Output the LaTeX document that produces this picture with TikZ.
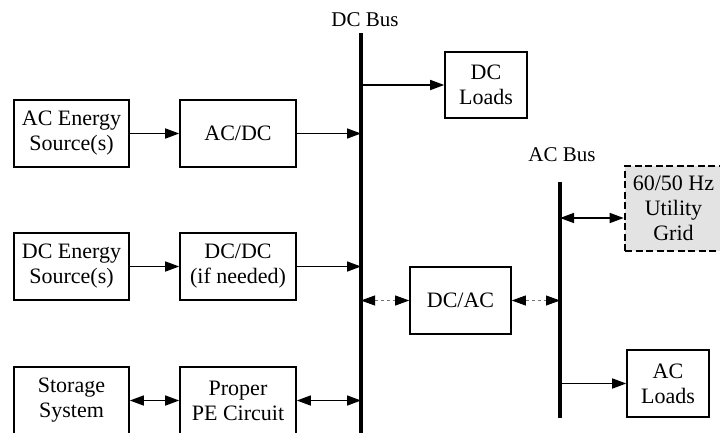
\documentclass[tikz,border=0pt]{standalone}
\usepackage{fontspec}
\setmainfont{Liberation Serif}
\usetikzlibrary{arrows.meta}
\begin{document}
\begin{tikzpicture}[x=1pt,y=-1pt,
  box/.style={draw,line width=1.6pt,inner sep=0pt,align=center,
    font=\fontsize{22}{25}\selectfont},
  gridbox/.style={box,dashed,dash pattern=on 7pt off 3.5pt,line width=2.6pt,fill=black!11},
  bus/.style={line width=3.6pt},
  tip/.style={Triangle[length=14pt,width=10pt]},
  conn/.style={line width=1.5pt,-{Triangle[length=14pt,width=10pt]}},
  biconn/.style={line width=1.5pt,{Triangle[length=14pt,width=10pt]}-{Triangle[length=14pt,width=10pt]}},
  dconn/.style={line width=0.8pt,dashed,dash pattern=on 3pt off 3pt,black!55,
    {Triangle[length=14pt,width=10pt,black]}-{Triangle[length=14pt,width=10pt,black]}},
  lab/.style={font=\fontsize{21}{24}\selectfont}]
\useasboundingbox (0,0) rectangle (720,432);
\clip (0,0) rectangle (720,432);

% buses
\coordinate (dctop) at (361,33);
\coordinate (dcbot) at (361,445);
\coordinate (actop) at (560,182);
\coordinate (acbot) at (560,418);
\draw[bus] (dctop) -- (dcbot);
\draw[bus] (actop) -- (acbot);
\node[lab] (dclab) at (365,20) {DC Bus};
\node[lab] (aclab) at (562,155) {AC Bus};

% boxes
\node[box,minimum width=115pt,minimum height=67pt] (acsrc) at (71.5,133.5) {AC Energy\\Source(s)};
\node[box,minimum width=116pt,minimum height=67pt] (acdc) at (238,133.5) {AC/DC};
\node[box,minimum width=115pt,minimum height=67pt] (dcsrc) at (71.5,266.5) {DC Energy\\Source(s)};
\node[box,minimum width=116pt,minimum height=67pt] (dcdc) at (238,266.5) {DC/DC\\(if needed)};
\node[box,minimum width=115pt,minimum height=67pt] (stor) at (71.5,400.5) {Storage\\System};
\node[box,minimum width=116pt,minimum height=67pt] (pe) at (238,400.5) {Proper\\PE Circuit};
\node[box,minimum width=82pt,minimum height=66pt] (dcload) at (486,85) {DC\\Loads};
\node[box,minimum width=101pt,minimum height=67pt] (dcac) at (460.5,300.5) {DC/AC};
\node[gridbox,minimum width=97pt,minimum height=85pt] (grid) at (673.5,208.5) {60/50 Hz\\Utility\\Grid};
\node[box,minimum width=82pt,minimum height=67pt] (acload) at (668,383.5) {AC\\Loads};

% bus tap points
\coordinate (b1) at (361,133.5);
\coordinate (b2) at (361,266.5);
\coordinate (b3) at (361,400.5);
\coordinate (b4) at (361,85);
\coordinate (b5) at (361,300.5);
\coordinate (a1) at (560,300.5);
\coordinate (a2) at (560,218);
\coordinate (a3) at (560,383.5);

% connectors
\draw[conn] (acsrc) -- (acdc);
\draw[conn] (acdc) -- (b1);
\draw[conn] (dcsrc) -- (dcdc);
\draw[conn] (dcdc) -- (b2);
\draw[biconn] (stor) -- (pe);
\draw[biconn] (pe) -- (b3);
\draw[conn] (b4) -- (dcload);
\draw[dconn] (b5) -- (dcac);
\draw[dconn] (dcac) -- (a1);
\draw[biconn] (a2) -- (grid.west |- a2);
\draw[conn] (a3) -- (acload);
\end{tikzpicture}
\end{document}
